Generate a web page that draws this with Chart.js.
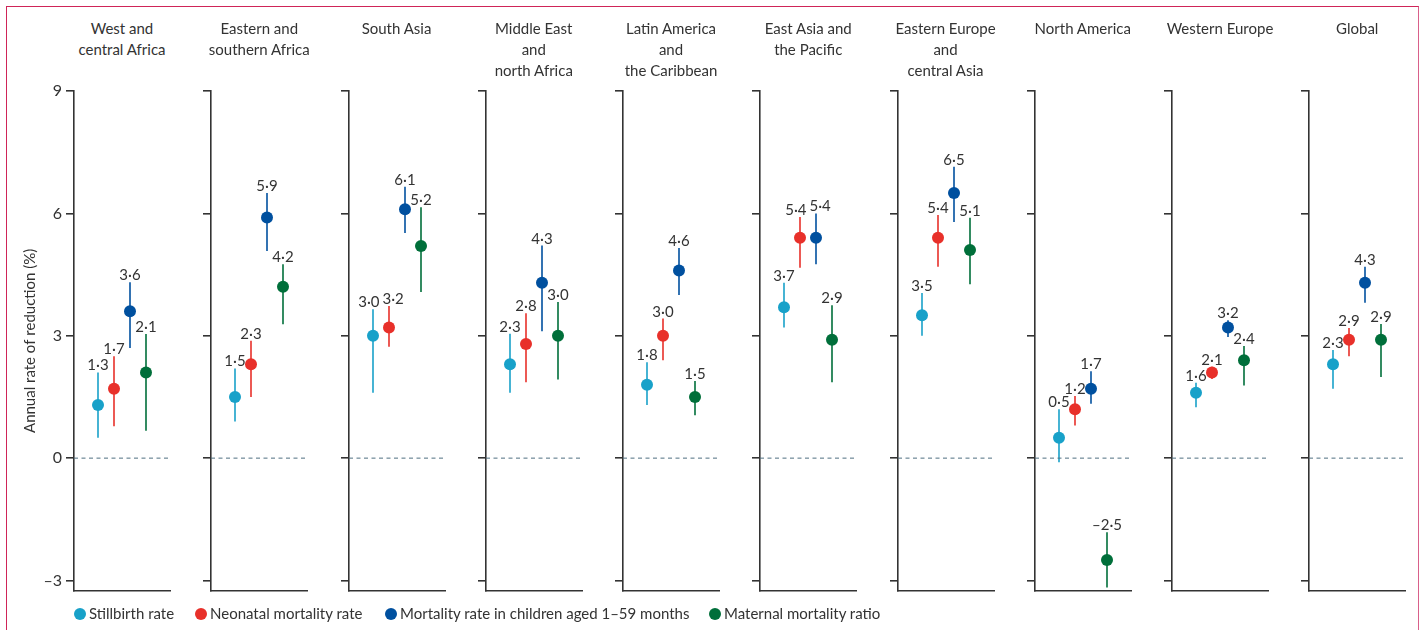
<!DOCTYPE html>
<html>
<head>
<meta charset="utf-8">
<script src="https://cdn.jsdelivr.net/npm/chart.js@4.4.1/dist/chart.umd.min.js"></script>
<style>
  html, body { margin: 0; padding: 0; background: #fff; }
  body { width: 1424px; height: 630px; position: relative; overflow: hidden; font-family: Lato, "Open Sans", sans-serif; color: #333; }
  .frame { position: absolute; left: 6px; top: 6px; width: 1413px; height: 640px; border-left: 1px solid #cf2458; border-top: 1px solid #cf2458; border-right: 1px solid #d9608a; box-sizing: border-box; }
  canvas { position: absolute; top: 0; }
  .ptitle { position: absolute; top: 17.5px; width: 160px; text-align: center; font-size: 15px; line-height: 21px; white-space: pre; color: #333; }
  .legend { position: absolute; top: 604px; font-size: 15px; line-height: 18px; color: #333; white-space: nowrap; }
  .legend span.dot { display: inline-block; width: 12px; height: 12px; border-radius: 50%; vertical-align: -1px; margin-right: 3px; }
</style>
</head>
<body>
<div class="frame"></div>
<div id="root"></div>
<script>
// ---------- data ----------
const regions = [
  "West and\ncentral Africa",
  "Eastern and\nsouthern Africa",
  "South Asia",
  "Middle East\nand\nnorth Africa",
  "Latin America\nand\nthe Caribbean",
  "East Asia and\nthe Pacific",
  "Eastern Europe\nand\ncentral Asia",
  "North America",
  "Western Europe",
  "Global"
];
const seriesNames = ["Stillbirth rate", "Neonatal mortality rate", "Mortality rate in children aged 1\u201359 months", "Maternal mortality ratio"];
const seriesColors = ["#18a1c9", "#e8302a", "#00509f", "#006f3a"];

const stillbirth   = [1.3, 1.5, 3.0, 2.3, 1.8, 3.7, 3.5, 0.5, 1.6, 2.3];
const stillbirthLo = [0.5, 0.9, 1.6, 1.6, 1.3, 3.2, 3.0, -0.1, 1.25, 1.7];
const stillbirthHi = [2.1, 2.2, 3.65, 3.05, 2.35, 4.3, 4.05, 1.2, 1.85, 2.65];

const neonatal   = [1.7, 2.3, 3.2, 2.8, 3.0, 5.4, 5.4, 1.2, 2.1, 2.9];
const neonatalLo = [0.78, 1.5, 2.73, 1.86, 2.4, 4.67, 4.69, 0.8, 1.94, 2.5];
const neonatalHi = [2.5, 2.88, 3.73, 3.55, 3.42, 5.91, 5.96, 1.52, 2.24, 3.19];

const child   = [3.6, 5.9, 6.1, 4.3, 4.6, 5.4, 6.5, 1.7, 3.2, 4.3];
const childLo = [2.7, 5.08, 5.52, 3.11, 4.0, 4.75, 5.79, 1.33, 2.97, 3.81];
const childHi = [4.31, 6.5, 6.65, 5.21, 5.15, 6.0, 7.14, 2.13, 3.38, 4.69];

const maternal   = [2.1, 4.2, 5.2, 3.0, 1.5, 2.9, 5.1, -2.5, 2.4, 2.9];
const maternalLo = [0.67, 3.28, 4.07, 1.93, 1.05, 1.86, 4.26, -3.17, 1.78, 1.99];
const maternalHi = [3.04, 4.75, 6.15, 3.83, 1.89, 3.75, 5.89, -1.82, 2.75, 3.29];

const yTicks = [-3, 0, 3, 6, 9];
const yTitle = "Annual rate of reduction (%)";

// ---------- layout ----------
const values = [stillbirth, neonatal, child, maternal];
const lows = [stillbirthLo, neonatalLo, childLo, maternalLo];
const highs = [stillbirthHi, neonatalHi, childHi, maternalHi];
const xSlots = [1.5, 2.5, 3.5, 4.5];

const FONT = "Lato, 'Open Sans', sans-serif";
const AXIS0 = 74, STEP = 137.25, PW = 96;
const TOP = 91, BOTTOM = 590.7, H = 630;

function fmt(v) {
  const s = Math.abs(v).toFixed(1).replace('.', '\u00b7');
  return (v < 0 ? '\u2013' : '') + s;
}

const errorBars = {
  id: 'errorBars',
  beforeDatasetsDraw(chart) {
    const ctx = chart.ctx, ys = chart.scales.y, xs = chart.scales.x;
    const p = chart.config.options.plugins.errorBars;
    ctx.save();
    ctx.lineWidth = 1.6;
    for (let s = 0; s < 4; s++) {
      const x = xs.getPixelForValue(xSlots[s]);
      ctx.strokeStyle = seriesColors[s];
      ctx.beginPath();
      ctx.moveTo(x, ys.getPixelForValue(lows[s][p.panel]));
      ctx.lineTo(x, ys.getPixelForValue(highs[s][p.panel]));
      ctx.stroke();
    }
    ctx.restore();
  },
  afterDatasetsDraw(chart) {
    const ctx = chart.ctx, ys = chart.scales.y, xs = chart.scales.x;
    const i = chart.config.options.plugins.errorBars.panel;
    ctx.save();
    ctx.font = "15px " + FONT;
    ctx.fillStyle = "#333";
    ctx.textAlign = "center";
    ctx.textBaseline = "alphabetic";
    const labs = [];
    for (let s = 0; s < 4; s++) {
      const t = fmt(values[s][i]);
      labs.push({ t, x: xs.getPixelForValue(xSlots[s]), y: ys.getPixelForValue(highs[s][i]) - 2, w: ctx.measureText(t).width });
    }
    for (let k = 1; k < 4; k++) {
      const a = labs[k - 1], b = labs[k];
      if (Math.abs(a.y - b.y) < 13) {
        const ov = (a.x + a.w / 2 + 3) - (b.x - b.w / 2);
        if (ov > 0) { a.x -= ov / 2; b.x += ov / 2; }
      }
    }
    labs.forEach(l => ctx.fillText(l.t, l.x, l.y));
    ctx.restore();
  }
};

const root = document.getElementById('root');

regions.forEach((name, i) => {
  const axisX = AXIS0 + i * STEP;
  const yw = i === 0 ? AXIS0 : 20;
  const left = axisX - yw;
  const width = yw + PW + 10;

  const t = document.createElement('div');
  t.className = 'ptitle';
  t.textContent = name;
  t.style.left = (axisX + PW / 2 - 80) + 'px';
  document.body.appendChild(t);

  const cv = document.createElement('canvas');
  cv.width = width; cv.height = H;
  cv.style.left = left + 'px';
  cv.style.width = width + 'px'; cv.style.height = H + 'px';
  document.body.appendChild(cv);

  const datasets = [{
    type: 'line',
    data: [{ x: 0, y: 0 }, { x: 6, y: 0 }],
    borderColor: '#4f6f80',
    borderWidth: 1,
    borderDash: [4, 3.5],
    pointRadius: 0,
    clip: false
  }];
  for (let s = 0; s < 4; s++) {
    datasets.push({
      type: 'scatter',
      label: seriesNames[s],
      data: [{ x: xSlots[s], y: values[s][i] }],
      backgroundColor: seriesColors[s],
      borderWidth: 0,
      pointRadius: 6,
      clip: false
    });
  }

  new Chart(cv, {
    type: 'scatter',
    data: { datasets },
    plugins: [errorBars],
    options: {
      responsive: false,
      devicePixelRatio: 1,
      animation: false,
      events: [],
      layout: { padding: { top: TOP, bottom: H - BOTTOM, left: 0, right: 10 } },
      plugins: {
        legend: { display: false },
        tooltip: { enabled: false },
        errorBars: { panel: i }
      },
      scales: {
        x: {
          type: 'linear', min: 0, max: 6,
          ticks: { display: false },
          grid: { display: false, drawTicks: false },
          border: { display: true, color: '#333', width: 1.6 },
          afterFit: sc => { sc.height = 0; }
        },
        y: {
          type: 'linear', min: -3.25, max: 9,
          afterBuildTicks: sc => { sc.ticks = yTicks.map(v => ({ value: v })); },
          ticks: {
            display: i === 0,
            padding: 4,
            color: '#333',
            font: { family: FONT, size: 16 },
            callback: v => (v < 0 ? '\u2013' + Math.abs(v) : String(v))
          },
          grid: { display: true, drawOnChartArea: false, drawTicks: true, tickLength: 8, color: '#333', lineWidth: 1.6 },
          border: { display: true, color: '#333', width: 1.6 },
          title: {
            display: i === 0,
            text: yTitle,
            color: '#333',
            font: { family: FONT, size: 15 },
            padding: { top: 21, bottom: 0 }
          },
          afterFit: sc => { sc.width = yw; }
        }
      }
    }
  });
});

// legend
const legendLeft = [74, 195, 385, 709];
seriesNames.forEach((n, s) => {
  const d = document.createElement('div');
  d.className = 'legend';
  d.style.left = legendLeft[s] + 'px';
  const dot = document.createElement('span');
  dot.className = 'dot';
  dot.style.background = seriesColors[s];
  d.appendChild(dot);
  d.appendChild(document.createTextNode(n));
  document.body.appendChild(d);
});
</script>
</body>
</html>
